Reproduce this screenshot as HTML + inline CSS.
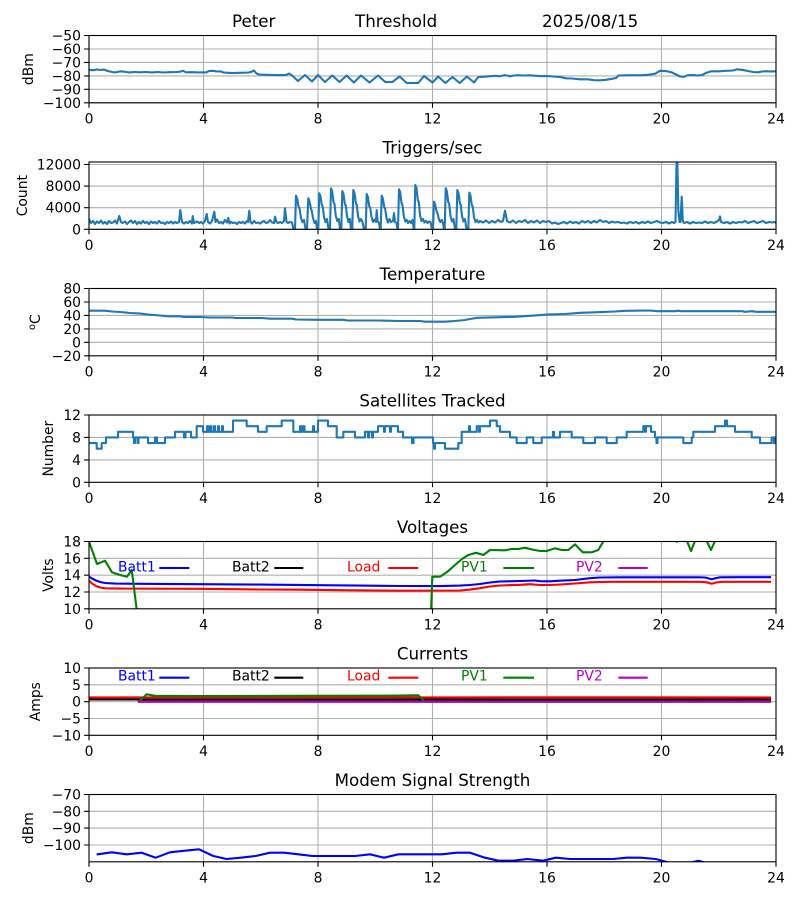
<!DOCTYPE html>
<html><head><meta charset="utf-8">
<style>
html,body{margin:0;padding:0;background:#fff;}
svg{display:block;}
text{font-family:"DejaVu Sans","Liberation Sans",sans-serif;fill:#000;}
.tk{font-size:13.9px;}
.tt{font-size:16.7px;}
.g{stroke:#b0b0b0;stroke-width:1.1;fill:none;}
.sp{stroke:#000;stroke-width:1.1;fill:none;}
.tm{stroke:#000;stroke-width:1.1;}
.d{fill:none;stroke-width:2.1;stroke-linejoin:round;stroke-linecap:square;}
</style></head><body>
<svg width="800" height="900" viewBox="0 0 800 900" xmlns="http://www.w3.org/2000/svg">
<defs>
<clipPath id="c1"><rect x="89" y="35.5" width="687" height="67.3"/></clipPath>
<clipPath id="c2"><rect x="89" y="162" width="687" height="67.3"/></clipPath>
<clipPath id="c3"><rect x="89" y="288.5" width="687" height="67.3"/></clipPath>
<clipPath id="c4"><rect x="89" y="415" width="687" height="67.3"/></clipPath>
<clipPath id="c5"><rect x="89" y="541.5" width="687" height="67.3"/></clipPath>
<clipPath id="c6"><rect x="89" y="668" width="687" height="67.3"/></clipPath>
<clipPath id="c7"><rect x="89" y="794.5" width="687" height="67.3"/></clipPath>
</defs>

<!-- ================= Panel 1 ================= -->
<text class="tt" x="232" y="27.2">Peter</text>
<text class="tt" x="355" y="27.2">Threshold</text>
<text class="tt" x="542" y="27.2">2025/08/15</text>
<g class="g">
<path d="M203.5 35.5V102.8M318 35.5V102.8M432.5 35.5V102.8M547 35.5V102.8M661.5 35.5V102.8M89 35.5V102.8M776 35.5V102.8"/>
<path d="M89 35.5H776M89 49H776M89 62.4H776M89 75.9H776M89 89.3H776M89 102.8H776"/>
</g>
<polyline class="d" clip-path="url(#c1)" stroke="#1f77b4" points="89,69.8 93,70.2 97,69.5 101,70 104,69.6 107,70.8 110,71.5 114,72.4 117,72 121,71.3 125,71.8 129,72.4 135,72 140,72.3 146,72 152,72.4 158,72 163,72.5 170,72.2 176,72 180,71.7 183,70.8 186,72.3 192,72.2 198,72.4 203,72.3 206,72.5 209,71 213,70.8 217,71.5 220,71.3 223.5,72.5 228,72.8 232,73 240,72.8 249,72.5 252,71.5 254,70.5 256.5,73.5 259,74.5 266,74.8 275,75 281,75.2 286.5,74.8 289,73.5 292,75.5 298,81 305,75 312,81.5 318,75 325,82 332.3,75.5 339.5,82 346.6,75.5 353.8,82.5 361,75.5 369.5,82.5 378,75.5 385.3,82 392.4,82 399.6,76.5 406.7,83 418.2,83 424,76 432.5,82.5 438.2,76.5 445.4,83 452.5,77 459.7,83 466.9,76.5 474,82.5 478.3,77 485,76.7 490,76.2 496,75.8 500,76.3 504,75.2 507,75.5 510,76.3 514,75.5 518,75.2 524,75.5 530,75.3 536,75.8 542,76.2 547,76 553,76.5 560,77 566,78.3 572,78.5 580,79.3 588,79.3 594,80.2 600,80.3 606,79.8 612,78.8 616,78 618.5,75.5 625,75.3 632,75.2 640,75.3 648,74.8 655,73.8 660,70.8 666,71 672,72.5 677,75 680,76.5 684,76.8 688,75.2 694,75 697,75.5 702,75 706,73 711,71.3 718,71.3 726,70.8 733,70.5 737,69.3 742,69.8 748,71 753,72 758,72.3 762,71.5 766,71.2 770,71.5 776,71.3"/>
<rect class="sp" x="89" y="35.5" width="687" height="67.3"/>
<path class="tm" d="M84.1 35.5H89M84.1 49H89M84.1 62.4H89M84.1 75.9H89M84.1 89.3H89M84.1 102.8H89M89 102.8V107.7M203.5 102.8V107.7M318 102.8V107.7M432.5 102.8V107.7M547 102.8V107.7M661.5 102.8V107.7M776 102.8V107.7"/>
<g class="tk" text-anchor="end">
<text x="81" y="40.5">&#8722;50</text><text x="81" y="54">&#8722;60</text><text x="81" y="67.4">&#8722;70</text><text x="81" y="80.9">&#8722;80</text><text x="81" y="94.3">&#8722;90</text><text x="81" y="107.8">&#8722;100</text>
</g>
<g class="tk" text-anchor="middle">
<text x="89" y="123.3">0</text><text x="203.5" y="123.3">4</text><text x="318" y="123.3">8</text><text x="432.5" y="123.3">12</text><text x="547" y="123.3">16</text><text x="661.5" y="123.3">20</text><text x="776" y="123.3">24</text>
</g>
<text class="tk" text-anchor="middle" transform="translate(33,69.15) rotate(-90)">dBm</text>

<!-- ================= Panel 2 ================= -->
<text class="tt" x="432.5" y="153.7" text-anchor="middle">Triggers/sec</text>
<g class="g">
<path d="M203.5 162V229.3M318 162V229.3M432.5 162V229.3M547 162V229.3M661.5 162V229.3"/>
<path d="M89 164.5H776M89 186.1H776M89 207.7H776M89 229.3H776"/>
</g>
<polyline class="d" clip-path="url(#c2)" stroke="#1f77b4" points="89,219 91,223 93,221 95,224 97,221.5 99,223 101,220.5 103,223.5 105,222 107,224 109,221 111,223 113,222.5 115,220.5 117,223.5 119.3,216 121,222 122.5,223 125,221.5 127,224 129,222 131,220.5 133,223 135,221 137,224 139,222 141,223.5 143,221 145,223 147,222 149,224 151,221.5 153,223 155,222 157,223.5 159,221 161,223 163,222.5 165,224 167,222 169,223 171,221.5 173,223.5 175,222 177,223 179,222 180.3,210 182,222 184,223.5 186,222 188,223 190,221 192,223.5 192.7,216 194,223 197,221.5 199,223 201,222 203,223.5 205,221 206.7,214 208,222 210,223.5 212,221 214.3,211.7 215.5,222 217,219.5 219,223 221,222 223,223.5 225,220 227,222.5 228.3,218 229.5,223.5 231,222 233,223 235,222.5 237,224 239,222 241,223 243,222 245,223.5 247,221 248,222 249.3,210.7 250.5,222 252,223.5 254,221 256,223 258,222.5 260,223.5 262,222 264,221 266,223 268,222.5 270,220 272,222.5 274,223 275,216.7 276.5,222 278,223 280,222 282,223 284,221 285,208.3 286.5,222 288,223 290,222 292,222.5 293.5,229 295,229 296,195.7 297.2,198.7 298.5,206.5 299.5,208 301,218 302.5,222 304,220 305.5,229 307,229 308.3,198.3 309.5,201.3 310.8,208 311.8,211 313,218 314.5,223 316,221 317,229 318.3,229 319.3,193.3 320.5,196.3 321.8,205 322.8,207 324,217 325.5,222 327,219 328.5,229 330,229 331,188.3 332.2,191.3 333.5,202 334.5,204 335.8,216 337.3,221 338.8,219 340,229 341.3,229 342.3,191 343.5,194 344.8,204 345.8,205.5 347,216 348.5,222 350,219 351,229 352.3,229 353.3,190 354.5,193 355.8,203 356.8,205 358,216 359.5,221.5 361,219 362.5,222 364,229 365.7,229 366.7,194 367.9,197 369.2,206 370.2,208 371.5,217 373,222 374.5,219.5 376,222 376.7,210 377.5,221 379,223 380,229 380.7,229 381.7,195.7 382.9,198.7 384.2,207 385.2,209 386.5,218 388,222.5 389.5,219 391,222 393,221 394,213 395,222 396.5,223 397.5,229 398,229 399,189.3 400.2,192.3 401.5,203 402.5,205 403.8,216 405.3,221.5 406.8,220 408,223 409.5,221 411,223 412.5,220 413.8,229 414.3,229 415.3,185 416.5,188 417.8,200 418.8,202 420,215 421.5,221 423,219 424.5,222.5 426,221 427.5,223 429,221.5 430.5,222 432,229 433,229 434,201.7 435.2,204.7 436.5,211 437.5,213 438.8,219 440.3,222 441.8,220 443,223 444,229 444.7,229 445.7,188.3 446.9,191.3 448.2,202 449.2,204 450.5,216 452,221.5 453.5,219 455,229 456.3,229 457.3,190 458.5,193 459.8,203 460.8,205 462,216 463.5,221.5 465,219 466.5,229 468.3,229 469.3,192.7 470.5,195.7 471.8,205 472.8,207 474,217 475.5,222 477,220 478.5,222.5 480,221 483,222.5 486,220.5 489,223 492,221 495,222.5 498,220 501,222 503,221 505,210.7 507,221 510,222.5 513,220.5 516,223 519,221 522,222 525,220 528,223 531,221 534,222.5 537,220.5 540,223 543,221 546,222 549,221 552,223.5 555,222.5 558,224 561,223 564,222 567,223.5 570,221.5 573,223 576,222 579,223.5 582,221 585,222.5 588,221 591,223 594,221 597,222.5 600,220 603,222 606,221 609,223 612,221.5 615,222.5 618,222 621,223 624,222.5 627,223.5 630,222 633,223 636,222 639,223.5 642,222 645,223 648,221.5 651,223 654,222 657,221 660,222.5 663,223 666,222 669,223.5 672,222 674,223 675.5,222 676.5,165 677.3,158 678.3,210 679.5,222 680.5,222 681.7,196.7 682.8,221 684,223 687,222 690,223.5 693,222 696,223 699,222.5 702,223 705,221.5 708,223 711,222 714,223 717,221.5 719,220 720,216.5 721,222 724,223 727,222 730,223.5 733,222 736,223 739,222 742,222.5 745,221 748,223 751,222 754,221 757,223 760,222 763,221 766,223 769,222 772,222.5 775,222 776,223"/>
<rect class="sp" x="89" y="162" width="687" height="67.3"/>
<path class="tm" d="M84.1 164.5H89M84.1 186.1H89M84.1 207.7H89M84.1 229.3H89M89 229.3V234.2M203.5 229.3V234.2M318 229.3V234.2M432.5 229.3V234.2M547 229.3V234.2M661.5 229.3V234.2M776 229.3V234.2"/>
<g class="tk" text-anchor="end">
<text x="81" y="169.5">12000</text><text x="81" y="191.1">8000</text><text x="81" y="212.7">4000</text><text x="81" y="234.3">0</text>
</g>
<g class="tk" text-anchor="middle">
<text x="89" y="249.8">0</text><text x="203.5" y="249.8">4</text><text x="318" y="249.8">8</text><text x="432.5" y="249.8">12</text><text x="547" y="249.8">16</text><text x="661.5" y="249.8">20</text><text x="776" y="249.8">24</text>
</g>
<text class="tk" text-anchor="middle" transform="translate(27,195.65) rotate(-90)">Count</text>

<!-- ================= Panel 3 ================= -->
<text class="tt" x="432.5" y="280.2" text-anchor="middle">Temperature</text>
<g class="g">
<path d="M203.5 288.5V355.8M318 288.5V355.8M432.5 288.5V355.8M547 288.5V355.8M661.5 288.5V355.8"/>
<path d="M89 302H776M89 315.4H776M89 328.9H776M89 342.3H776"/>
</g>
<polyline class="d" clip-path="url(#c3)" stroke="#1f77b4" points="89,310.7 105,310.7 112,311.5 120,312 130,313 140,313.5 148,314.5 160,315.5 168,316.3 180,316.3 184,317 200,317 210,317.5 232,317.5 236,318 262,318 270,318.7 292,318.7 296,319.5 318,319.8 343,319.8 348,320.5 380,320.5 400,321 420,321 425,321.7 445,321.7 455,321 465,320 470,319 477,317.8 495,317.3 515,316.8 530,315.8 547,314.6 565,314 580,312.8 595,312.3 615,311.5 625,310.8 650,310.5 657,311.2 675,311.2 678,310.7 681,311.2 742,311.2 745,311.8 752,311.2 756,311.8 776,311.8"/>
<rect class="sp" x="89" y="288.5" width="687" height="67.3"/>
<path class="tm" d="M84.1 288.5H89M84.1 302H89M84.1 315.4H89M84.1 328.9H89M84.1 342.3H89M84.1 355.8H89M89 355.8V360.7M203.5 355.8V360.7M318 355.8V360.7M432.5 355.8V360.7M547 355.8V360.7M661.5 355.8V360.7M776 355.8V360.7"/>
<g class="tk" text-anchor="end">
<text x="81" y="293.5">80</text><text x="81" y="307">60</text><text x="81" y="320.4">40</text><text x="81" y="333.9">20</text><text x="81" y="347.3">0</text><text x="81" y="360.8">&#8722;20</text>
</g>
<g class="tk" text-anchor="middle">
<text x="89" y="376.3">0</text><text x="203.5" y="376.3">4</text><text x="318" y="376.3">8</text><text x="432.5" y="376.3">12</text><text x="547" y="376.3">16</text><text x="661.5" y="376.3">20</text><text x="776" y="376.3">24</text>
</g>
<text class="tk" text-anchor="middle" transform="translate(40,322.15) rotate(-90)"><tspan font-size="9.7px" dy="-5">o</tspan><tspan dy="5">C</tspan></text>

<!-- ================= Panel 4 ================= -->
<text class="tt" x="432.5" y="406.7" text-anchor="middle">Satellites Tracked</text>
<g class="g">
<path d="M203.5 415V482.3M318 415V482.3M432.5 415V482.3M547 415V482.3M661.5 415V482.3"/>
<path d="M89 437.4H776M89 459.9H776"/>
</g>
<path class="d" clip-path="url(#c4)" stroke="#1f77b4" d="M89,443.1 H96.7 V448.7 H101.7 V443.1 H106 V437.4 H118 V431.8 H133 V437.4 H134 V443.1 H135 V437.4 H137.5 V443.1 H138.5 V437.4 H148 V443.1 H155 V437.4 H157 V443.1 H165 V437.4 H175 V431.8 H184 V437.4 H185.5 V431.8 H191 V437.4 H196.7 V426.2 H203 V431.8 H207 V426.2 H208 V431.8 H210 V426.2 H211.5 V431.8 H214 V426.2 H215 V431.8 H218 V426.2 H219 V431.8 H222 V426.2 H223 V431.8 H233 V420.6 H246.7 V426.2 H258 V431.8 H266.7 V426.2 H281.7 V420.6 H293.3 V431.8 H300 V426.2 H301 V431.8 H303 V426.2 H304.5 V431.8 H313 V426.2 H314 V431.8 H318 V420.6 H328 V426.2 H336.7 V437.4 H343.3 V431.8 H355 V437.4 H365 V431.8 H368 V437.4 H369 V431.8 H372 V437.4 H373 V431.8 H378 V426.2 H384 V431.8 H385 V426.2 H390 V431.8 H391 V426.2 H398 V431.8 H403 V437.4 H412 V443.1 H413.5 V437.4 H433 V443.1 H434 V448.7 H435 V443.1 H445 V448.7 H458.3 V443.1 H461.7 V431.8 H469 V426.2 H470 V431.8 H476.7 V426.2 H479 V431.8 H480 V426.2 H490 V420.6 H496.7 V426.2 H500 V431.8 H510 V437.4 H516.7 V443.1 H526.7 V437.4 H533.3 V443.1 H541.7 V437.4 H553 V431.8 H554 V437.4 H560 V431.8 H571.7 V437.4 H583.3 V443.1 H595 V437.4 H606.7 V443.1 H616.7 V437.4 H626.7 V431.8 H643.3 V426.2 H645 V431.8 H646 V426.2 H651 V431.8 H655 V437.4 H656.5 V443.1 H657.5 V437.4 H683.3 V443.1 H691.7 V437.4 H693.3 V431.8 H715 V426.2 H725 V420.6 H727 V426.2 H735 V431.8 H751.7 V437.4 H760 V443.1 H771.7 V437.4 H774 V443.1 H775 V437.4 H776"/>
<rect class="sp" x="89" y="415" width="687" height="67.3"/>
<path class="tm" d="M84.1 415H89M84.1 437.4H89M84.1 459.9H89M84.1 482.3H89M89 482.3V487.2M203.5 482.3V487.2M318 482.3V487.2M432.5 482.3V487.2M547 482.3V487.2M661.5 482.3V487.2M776 482.3V487.2"/>
<g class="tk" text-anchor="end">
<text x="81" y="420">12</text><text x="81" y="442.4">8</text><text x="81" y="464.9">4</text><text x="81" y="487.3">0</text>
</g>
<g class="tk" text-anchor="middle">
<text x="89" y="502.8">0</text><text x="203.5" y="502.8">4</text><text x="318" y="502.8">8</text><text x="432.5" y="502.8">12</text><text x="547" y="502.8">16</text><text x="661.5" y="502.8">20</text><text x="776" y="502.8">24</text>
</g>
<text class="tk" text-anchor="middle" transform="translate(53,448.65) rotate(-90)">Number</text>

<!-- ================= Panel 5 ================= -->
<text class="tt" x="432.5" y="533.2" text-anchor="middle">Voltages</text>
<g class="g">
<path d="M203.5 541.5V608.8M318 541.5V608.8M432.5 541.5V608.8M547 541.5V608.8M661.5 541.5V608.8"/>
<path d="M89 558.3H776M89 575.2H776M89 592H776"/>
</g>
<g clip-path="url(#c5)">
<polyline class="d" stroke="#0000ff" points="89,576.7 92,578.5 96,580.5 100,582 105,583 115,583.6 140,583.8 200,584.2 260,584.6 320,585.2 360,585.6 400,586 440,586.1 460,585.6 470,585 480,584 490,582.5 500,581.5 520,581 535,580.5 540,581.2 550,581.3 560,580.7 575,580 590,578.2 600,577.5 620,577.3 660,577.3 700,577.3 705,577.5 709,578.5 712,579.3 715,578.3 720,577.3 740,577.2 770,577.2"/>
<polyline class="d" stroke="#ff0000" points="89,580.7 92,583.5 96,586 100,587.5 105,588.3 120,588.6 200,588.8 260,589.5 300,589.7 340,590.2 400,590.7 460,590.5 470,589.6 480,588.2 490,586.5 500,585.5 520,584.8 530,584.2 540,585 550,585 560,584.5 575,583.5 590,582.3 610,581.8 660,581.8 700,581.8 706,582.2 711.7,583.7 716,582.5 722,581.8 770,581.8"/>
<polyline class="d" stroke="#008000" points="89,541.7 97,564 105,560.7 112,572.3 120,575 127,576.7 131.7,570 137,612 140,640 428,640 431,612 432.3,576.7 440,576.7 446.7,572.3 455,565 462,559 468.3,555 476,552.7 483.3,555 490,550 505,550.3 511.7,549 518.3,549 525,547.7 532,549.5 540,551 546.7,551 555,548.3 561.7,550 568.3,550 575,544.3 582.7,552.3 591.7,552.3 598.3,550 603.3,541.5 607,528 672,528 675,539 676.7,542 678.5,539 682,528 684,530 687,541 691,551 695,541 698,530 703,530 706.7,541 711,550 715,541 718,530 770,528"/>
</g>
<rect class="sp" x="89" y="541.5" width="687" height="67.3"/>
<path class="tm" d="M84.1 541.5H89M84.1 558.3H89M84.1 575.2H89M84.1 592H89M84.1 608.8H89M89 608.8V613.7M203.5 608.8V613.7M318 608.8V613.7M432.5 608.8V613.7M547 608.8V613.7M661.5 608.8V613.7M776 608.8V613.7"/>
<g class="tk" text-anchor="end">
<text x="81" y="546.5">18</text><text x="81" y="563.3">16</text><text x="81" y="580.2">14</text><text x="81" y="597">12</text><text x="81" y="613.8">10</text>
</g>
<g class="tk" text-anchor="middle">
<text x="89" y="629.3">0</text><text x="203.5" y="629.3">4</text><text x="318" y="629.3">8</text><text x="432.5" y="629.3">12</text><text x="547" y="629.3">16</text><text x="661.5" y="629.3">20</text><text x="776" y="629.3">24</text>
</g>
<text class="tk" text-anchor="middle" transform="translate(53,575.15) rotate(-90)">Volts</text>
<g class="tk">
<text x="118" y="571.5" style="fill:#0000ff">Batt1</text>
<text x="232" y="571.5" style="fill:#000000">Batt2</text>
<text x="347" y="571.5" style="fill:#ff0000">Load</text>
<text x="461" y="571.5" style="fill:#008000">PV1</text>
<text x="576" y="571.5" style="fill:#bf00bf">PV2</text>
</g>
<path d="M159.3 568H189.3" stroke="#0000ff" stroke-width="2.1"/>
<path d="M274.3 568H303.3" stroke="#000000" stroke-width="2.1"/>
<path d="M388.3 568H418.3" stroke="#ff0000" stroke-width="2.1"/>
<path d="M503.3 568H534" stroke="#008000" stroke-width="2.1"/>
<path d="M618.3 568H647.7" stroke="#bf00bf" stroke-width="2.1"/>

<!-- ================= Panel 6 ================= -->
<text class="tt" x="432.5" y="659.7" text-anchor="middle">Currents</text>
<g class="g">
<path d="M203.5 668V735.3M318 668V735.3M432.5 668V735.3M547 668V735.3M661.5 668V735.3"/>
<path d="M89 684.8H776M89 701.65H776M89 718.5H776"/>
</g>
<g clip-path="url(#c6)">
<polyline class="d" stroke="#0000ff" points="139,701.65 770,701.65"/>
<polyline class="d" stroke="#000000" points="89,699.4 770,699.4"/>
<polyline class="d" stroke="#ff0000" points="89,697.4 300,697.3 430,697.4 600,697.3 770,697.4"/>
<polyline class="d" stroke="#008000" points="139,701.65 146.7,694.3 155,695.8 200,696 300,695.8 400,695.6 416,695.3 418.3,695.3 425,701.65 770,701.65"/>
<polyline class="d" stroke="#bf00bf" points="139,701.65 770,701.65"/>
</g>
<rect class="sp" x="89" y="668" width="687" height="67.3"/>
<path class="tm" d="M84.1 668H89M84.1 684.8H89M84.1 701.65H89M84.1 718.5H89M84.1 735.3H89M89 735.3V740.2M203.5 735.3V740.2M318 735.3V740.2M432.5 735.3V740.2M547 735.3V740.2M661.5 735.3V740.2M776 735.3V740.2"/>
<g class="tk" text-anchor="end">
<text x="81" y="673">10</text><text x="81" y="689.8">5</text><text x="81" y="706.7">0</text><text x="81" y="723.5">&#8722;5</text><text x="81" y="740.3">&#8722;10</text>
</g>
<g class="tk" text-anchor="middle">
<text x="89" y="755.8">0</text><text x="203.5" y="755.8">4</text><text x="318" y="755.8">8</text><text x="432.5" y="755.8">12</text><text x="547" y="755.8">16</text><text x="661.5" y="755.8">20</text><text x="776" y="755.8">24</text>
</g>
<text class="tk" text-anchor="middle" transform="translate(40,701.65) rotate(-90)">Amps</text>
<g class="tk">
<text x="118" y="680.5" style="fill:#0000ff">Batt1</text>
<text x="232" y="680.5" style="fill:#000000">Batt2</text>
<text x="347" y="680.5" style="fill:#ff0000">Load</text>
<text x="461" y="680.5" style="fill:#008000">PV1</text>
<text x="576" y="680.5" style="fill:#bf00bf">PV2</text>
</g>
<path d="M159.3 677.7H189.3" stroke="#0000ff" stroke-width="2.1"/>
<path d="M274.3 677.7H303.3" stroke="#000000" stroke-width="2.1"/>
<path d="M388.3 677.7H418.3" stroke="#ff0000" stroke-width="2.1"/>
<path d="M503.3 677.7H534" stroke="#008000" stroke-width="2.1"/>
<path d="M618.3 677.7H647.7" stroke="#bf00bf" stroke-width="2.1"/>

<!-- ================= Panel 7 ================= -->
<text class="tt" x="432.5" y="786.2" text-anchor="middle">Modem Signal Strength</text>
<g class="g">
<path d="M203.5 794.5V861.8M318 794.5V861.8M432.5 794.5V861.8M547 794.5V861.8M661.5 794.5V861.8"/>
<path d="M89 811.3H776M89 828.1H776M89 845H776"/>
</g>
<polyline class="d" clip-path="url(#c7)" stroke="#0000ff" points="97.7,854.3 111.7,852.3 126.7,854.3 141.7,852.7 155.7,857.7 170,852.3 185,850.7 199,849.3 213.3,856 226.7,859 240.7,857.7 255.7,856 270,852.7 284,852.7 298.3,854.3 312.3,856 326.7,856 340.7,856 355,856 370,854.3 384,857.7 398.3,854.3 413.3,854.3 427,854.3 441.7,854.3 456.7,852.7 470,852.7 485,857.7 498.3,860.7 513.3,860.7 527.3,859 543.3,860.7 555.7,857.7 570,859 583.3,859 598.3,859 613.3,859 626.7,857.7 640.7,857.7 655.7,859 665,861.5 680,866 693,862 698.5,860.8 703,862 715,866"/>
<rect class="sp" x="89" y="794.5" width="687" height="67.3"/>
<path class="tm" d="M84.1 794.5H89M84.1 811.3H89M84.1 828.1H89M84.1 845H89M89 861.8V866.7M203.5 861.8V866.7M318 861.8V866.7M432.5 861.8V866.7M547 861.8V866.7M661.5 861.8V866.7M776 861.8V866.7"/>
<g class="tk" text-anchor="end">
<text x="81" y="799.5">&#8722;70</text><text x="81" y="816.3">&#8722;80</text><text x="81" y="833.1">&#8722;90</text><text x="81" y="850">&#8722;100</text>
</g>
<g class="tk" text-anchor="middle">
<text x="89" y="882.3">0</text><text x="203.5" y="882.3">4</text><text x="318" y="882.3">8</text><text x="432.5" y="882.3">12</text><text x="547" y="882.3">16</text><text x="661.5" y="882.3">20</text><text x="776" y="882.3">24</text>
</g>
<text class="tk" text-anchor="middle" transform="translate(33,828.15) rotate(-90)">dBm</text>
</svg>
</body></html>
